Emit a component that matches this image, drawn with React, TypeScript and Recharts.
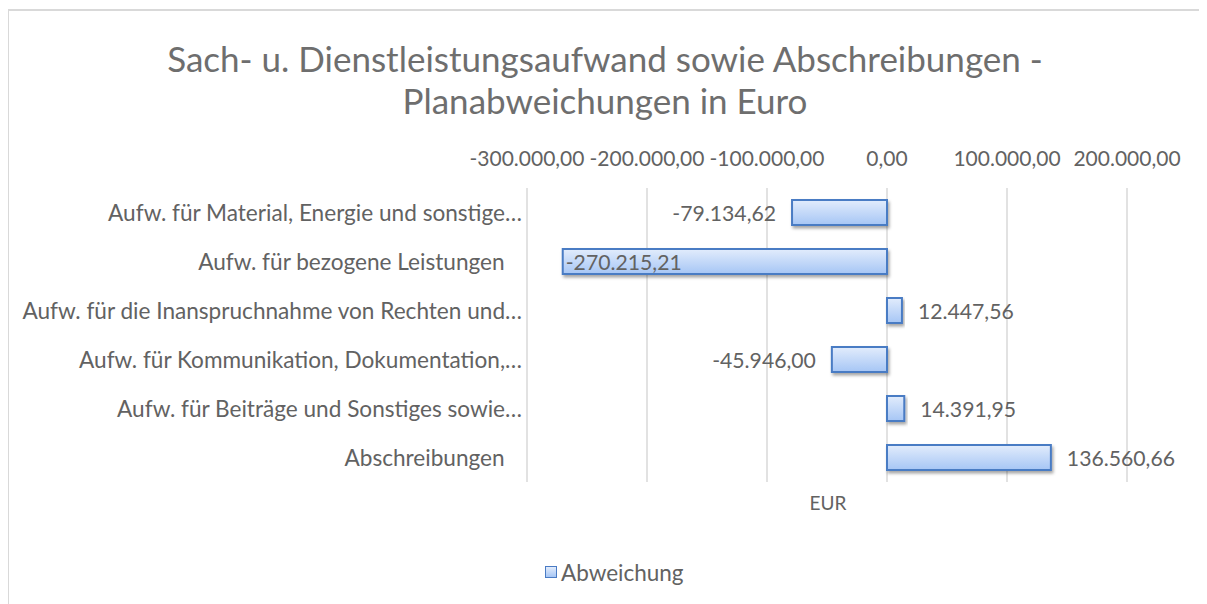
import React from 'react';
import { BarChart, Bar, XAxis, YAxis, CartesianGrid, LabelList } from 'recharts';

const categories = [
  'Aufw. für Material, Energie und sonstige…',
  'Aufw. für bezogene Leistungen   ',
  'Aufw. für die Inanspruchnahme von Rechten und…',
  'Aufw. für Kommunikation, Dokumentation,…',
  'Aufw. für Beiträge und Sonstiges sowie…',
  'Abschreibungen   ',
];
const abweichung = [-79134.62, -270215.21, 12447.56, -45946.0, 14391.95, 136560.66];
const xTicks = [-300000, -200000, -100000, 0, 100000, 200000];

const data = categories.map((name, i) => ({ name, value: abweichung[i] }));

const FONT = 'Lato, "Open Sans", sans-serif';
const GRAY = '#626262';

const fmt = (v: number) => {
  const neg = v < 0;
  const a = Math.abs(v);
  const intPart = Math.floor(a + 1e-9);
  const dec = Math.round((a - intPart) * 100);
  const s = String(intPart).replace(/\B(?=(\d{3})+(?!\d))/g, '.');
  return (neg ? '-' : '') + s + ',' + String(dec).padStart(2, '0');
};

const XTick = (props: any) => {
  const { x, y, payload } = props;
  return (
    <text x={x} y={y - 31} textAnchor="middle" dominantBaseline="central" fill={GRAY} fontSize={21} fontFamily={FONT}>
      {fmt(payload.value)}
    </text>
  );
};

const YTick = (props: any) => {
  const { x, y, payload } = props;
  return (
    <text x={x - 5} y={y} textAnchor="end" dominantBaseline="central" fill={GRAY} fontSize={22.6} fontFamily={FONT} style={{ whiteSpace: 'pre' }}>
      {payload.value}
    </text>
  );
};

const PLOT_LEFT = 519;

const BarLabel = (props: any) => {
  const vb = props.viewBox || {};
  const x = props.x ?? vb.x;
  const y = props.y ?? vb.y;
  const width = props.width ?? vb.width;
  const height = props.height ?? vb.height;
  const value = props.value as number;
  const left = Math.min(x, x + width);
  const right = Math.max(x, x + width);
  const cy = y + height / 2;
  const text = fmt(value);
  const est = text.length * 11;
  let tx = right + 16;
  let anchor: 'start' | 'end' = 'start';
  if (value < 0) {
    tx = left - 16;
    anchor = 'end';
    if (tx - est < PLOT_LEFT) {
      tx = left + 3;
      anchor = 'start';
    }
  }
  return (
    <text x={tx} y={cy} textAnchor={anchor} dominantBaseline="central" fill={GRAY} fontSize={21.2} fontFamily={FONT}>
      {text}
    </text>
  );
};

const BarShape = (props: any) => {
  const { x, y, width, height } = props;
  const left = Math.min(x, x + width);
  const w = Math.abs(width);
  return (
    <rect x={left} y={y} width={w} height={height} fill="url(#barGrad)" stroke="#4a7bc4" strokeWidth={2} filter="url(#barShadow)" />
  );
};

export default function App() {
  return (
    <div style={{ position: 'relative', width: 1199, height: 596, fontFamily: FONT, background: '#fff' }}>
      <div style={{ position: 'absolute', left: -1, top: 1, width: 1200, height: 2, background: '#d9d9d9' }} />
      <div style={{ position: 'absolute', left: -1, top: 1, width: 2, height: 600, background: '#d9d9d9' }} />
      <div
        style={{
          position: 'absolute',
          left: 0,
          top: 29,
          width: 1194,
          textAlign: 'center',
          color: '#6e6e6e',
          fontSize: 35,
          lineHeight: '42px',
          fontFamily: FONT,
        }}
      >
        Sach- u. Dienstleistungsaufwand sowie Abschreibungen -<br />Planabweichungen in Euro
      </div>
      <div style={{ position: 'absolute', top: 0, left: 0 }}>
        <BarChart
          width={1199}
          height={596}
          data={data}
          layout="vertical"
          margin={{ top: 130, right: 80, bottom: 122, left: 0 }}
        >
          <defs>
            <linearGradient id="barGrad" x1="0" y1="0" x2="0" y2="1">
              <stop offset="0%" stopColor="#e2ecfc" />
              <stop offset="100%" stopColor="#a6c6f5" />
            </linearGradient>
            <filter id="barShadow" x="-10%" y="-30%" width="130%" height="180%">
              <feDropShadow dx="1.5" dy="2.5" stdDeviation="1.5" floodColor="#000" floodOpacity="0.35" />
            </filter>
          </defs>
          <CartesianGrid horizontal={false} vertical stroke="#d9d9d9" strokeWidth={1.5} />
          <XAxis
            type="number"
            orientation="top"
            domain={[-300000, 200000]}
            ticks={xTicks}
            height={50}
            axisLine={false}
            tickLine={false}
            tickSize={0}
            tickMargin={0}
            tick={<XTick />}
            interval={0}
          />
          <YAxis
            type="category"
            dataKey="name"
            width={519}
            axisLine={false}
            tickLine={false}
            tickSize={0}
            tickMargin={0}
            tick={<YTick />}
            interval={0}
          />
          <Bar dataKey="value" barSize={25} isAnimationActive={false} shape={<BarShape />}>
            <LabelList dataKey="value" content={<BarLabel />} />
          </Bar>
        </BarChart>
      </div>
      <div
        style={{
          position: 'absolute',
          left: 820,
          top: 494,
          transform: 'translate(-50%, -50%)',
          color: GRAY,
          fontSize: 19,
          fontFamily: FONT,
        }}
      >
        EUR
      </div>
      <div
        style={{
          position: 'absolute',
          left: 537,
          top: 552,
          height: 24,
          display: 'flex',
          alignItems: 'center',
          color: GRAY,
          fontSize: 22.5,
          fontFamily: FONT,
        }}
      >
        <span
          style={{
            display: 'inline-block',
            width: 10,
            height: 10,
            border: '1.5px solid #4a7bc4',
            background: 'linear-gradient(#e2ecfc, #a6c6f5)',
            marginRight: 4,
          }}
        />
        Abweichung
      </div>
    </div>
  );
}
